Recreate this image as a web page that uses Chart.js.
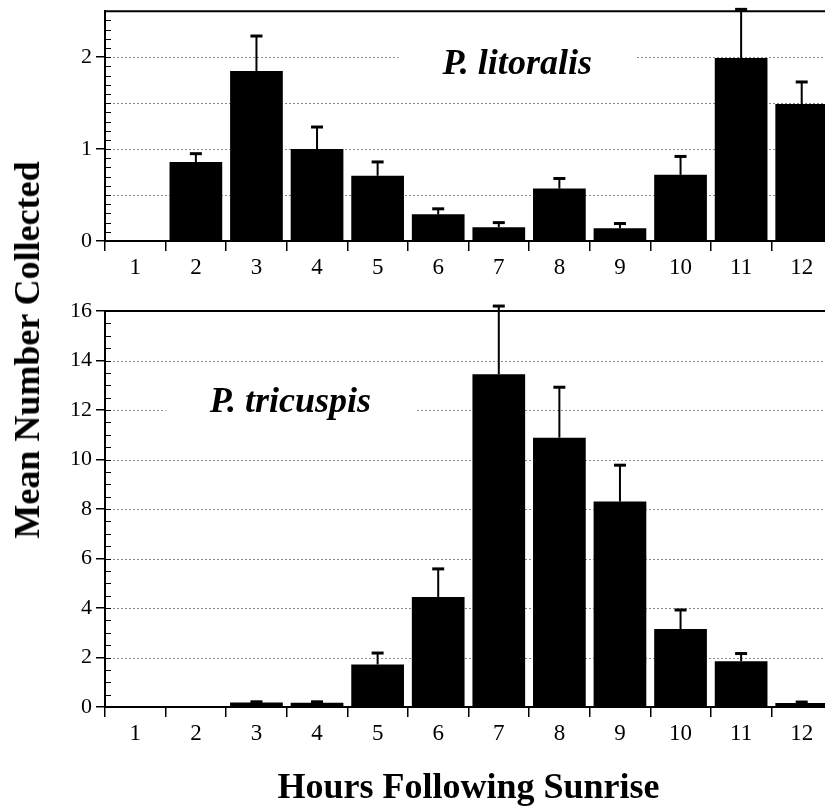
<!DOCTYPE html>
<html>
<head>
<meta charset="utf-8">
<script src="https://cdn.jsdelivr.net/npm/chart.js@4.4.1/dist/chart.umd.min.js"></script>
<style>
  html, body { margin:0; padding:0; background:#fff; overflow:hidden; width:825px; height:806px; }
  canvas { position:absolute; left:0; }
  #yTitle {
    position:absolute; left:27px; top:350px;
    transform:translate(-50%,-50%) rotate(-90deg);
    font:bold 36px "Liberation Serif","Times New Roman",serif;
    white-space:nowrap; color:#000;
  }
</style>
</head>
<body>
<canvas id="topChart" width="840" height="287" style="top:-6px"></canvas>
<canvas id="bottomChart" width="840" height="516" style="top:290px"></canvas>
<div id="yTitle">Mean Number Collected</div>

<script>
// hours after sunrise
const hours = ['1','2','3','4','5','6','7','8','9','10','11','12'];

// P. litoralis: means and upper error (SE)
const litoralisMean = [0, 0.86, 1.85, 1.00, 0.71, 0.29, 0.15, 0.57, 0.14, 0.72, 1.99, 1.49];
const litoralisErr  = [0, 0.09, 0.38, 0.24, 0.15, 0.06, 0.05, 0.11, 0.05, 0.20, 0.53, 0.24];

// P. tricuspis: means and upper error (SE)
const tricuspisMean = [0, 0, 0.18, 0.17, 1.72, 4.44, 13.44, 10.88, 8.30, 3.15, 1.85, 0.16];
const tricuspisErr  = [0, 0, 0.03, 0.04, 0.46, 1.14, 2.76, 2.04, 1.47, 0.77, 0.31, 0.04];

// labelled y ticks
const litoralisTicks = [0, 1, 2];
const tricuspisTicks = [0, 2, 4, 6, 8, 10, 12, 14, 16];

const SERIF = '"Liberation Serif","Times New Roman",serif';

// dotted grid, species label, error bars, inward minor ticks, top frame
const decor = {
  id: 'decor',
  beforeDatasetsDraw(chart, args, o) {
    const {ctx, chartArea: a} = chart;
    const y = chart.scales.y;
    ctx.save();
    ctx.strokeStyle = '#8a8a8a';
    ctx.lineWidth = 1;
    ctx.setLineDash([2, 2]);
    for (let k = 1; k * o.gridStep < y.max - 1e-9; k++) {
      const py = Math.round(y.getPixelForValue(k * o.gridStep)) + 0.5;
      ctx.beginPath(); ctx.moveTo(a.left, py); ctx.lineTo(a.right, py); ctx.stroke();
    }
    ctx.setLineDash([]);
    ctx.font = 'italic bold 36px ' + SERIF;
    const tw = ctx.measureText(o.label).width;
    const cx = a.left + o.labelX * (a.right - a.left);
    const cy = y.getPixelForValue(o.labelY);
    ctx.fillStyle = '#fff';
    ctx.fillRect(cx - tw / 2 - 44, cy - 18, tw + 88, 36);
    ctx.fillStyle = '#000';
    ctx.textAlign = 'center';
    ctx.textBaseline = 'middle';
    ctx.fillText(o.label, cx, cy);
    ctx.restore();
  },
  afterDatasetsDraw(chart, args, o) {
    const {ctx, chartArea: a} = chart;
    const y = chart.scales.y;
    const vals = chart.data.datasets[0].data;
    ctx.save();
    ctx.strokeStyle = '#000';
    chart.getDatasetMeta(0).data.forEach((bar, i) => {
      const err = o.errors[i];
      if (!err) return;
      const top = y.getPixelForValue(vals[i] + err);
      ctx.lineWidth = 2;
      ctx.beginPath(); ctx.moveTo(bar.x, bar.y); ctx.lineTo(bar.x, top); ctx.stroke();
      ctx.lineWidth = 3;
      ctx.beginPath(); ctx.moveTo(bar.x - 6, top); ctx.lineTo(bar.x + 6, top); ctx.stroke();
    });
    ctx.lineWidth = 1;
    for (let k = 1; k * o.minorStep < y.max - 1e-9; k++) {
      const py = Math.round(y.getPixelForValue(k * o.minorStep)) + 0.5;
      ctx.beginPath(); ctx.moveTo(a.left, py); ctx.lineTo(a.left + 6, py); ctx.stroke();
    }
    ctx.lineWidth = 2;
    ctx.beginPath(); ctx.moveTo(a.left, a.top); ctx.lineTo(a.right, a.top); ctx.stroke();
    ctx.restore();
  }
};

function makePanel(id, means, errs, yMax, yTicks, axisHeight, padTop, decorOpts, xTitle) {
  new Chart(document.getElementById(id), {
    type: 'bar',
    data: {
      labels: hours,
      datasets: [{
        data: means,
        backgroundColor: '#000',
        borderWidth: 0,
        barPercentage: 0.87,
        categoryPercentage: 1.0
      }]
    },
    options: {
      responsive: false,
      animation: false,
      layout: { padding: { top: padTop, right: 8, left: 0, bottom: 0 } },
      plugins: {
        legend: { display: false },
        tooltip: { enabled: false },
        decor: decorOpts
      },
      scales: {
        x: {
          grid: { offset: true, drawOnChartArea: false, tickLength: 10, color: '#000', lineWidth: 1.5 },
          border: { color: '#000', width: 2 },
          ticks: { color: '#000', padding: 3, maxRotation: 0, font: { family: SERIF, size: 23 } },
          title: xTitle ? {
            display: true, text: xTitle, color: '#000', padding: { top: 0, bottom: -4 },
            font: { family: SERIF, size: 36, weight: 'bold' }
          } : { display: false },
          afterFit: s => { s.height = axisHeight; }
        },
        y: {
          min: 0,
          max: yMax,
          afterBuildTicks: s => { s.ticks = yTicks.map(v => ({ value: v })); },
          grid: { drawOnChartArea: false, tickLength: 9, color: '#000', lineWidth: 1.5 },
          border: { color: '#000', width: 2 },
          ticks: { color: '#000', padding: 4, font: { family: SERIF, size: 22 } },
          afterFit: s => { s.width = 105; }
        }
      }
    },
    plugins: [decor]
  });
}

makePanel('topChart', litoralisMean, litoralisErr, 2.5, litoralisTicks, 40, 11,
  { errors: litoralisErr, gridStep: 0.5, minorStep: 0.1, label: 'P. litoralis', labelX: 0.567, labelY: 1.92 });

makePanel('bottomChart', tricuspisMean, tricuspisErr, 16, tricuspisTicks, 99, 21,
  { errors: tricuspisErr, gridStep: 2, minorStep: 0.5, label: 'P. tricuspis', labelX: 0.255, labelY: 12.3 },
  'Hours Following Sunrise');
</script>
</body>
</html>
